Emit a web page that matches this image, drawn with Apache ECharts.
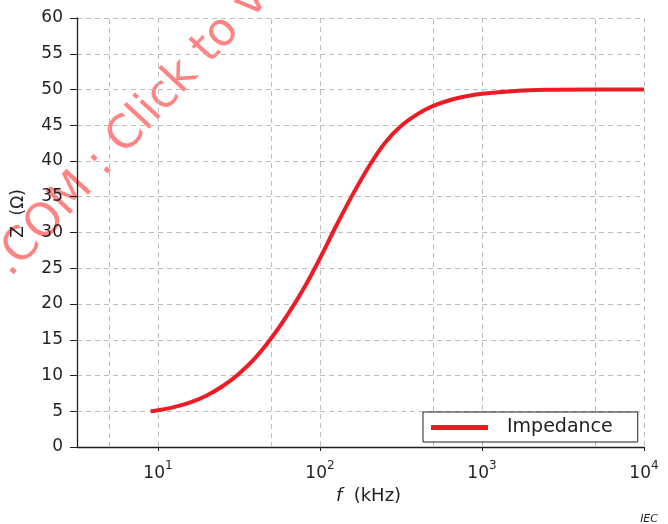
<!DOCTYPE html>
<html>
<head>
<meta charset="utf-8">
<script src="https://cdn.jsdelivr.net/npm/echarts@6/dist/echarts.min.js"></script>
<style>
  html, body { margin: 0; padding: 0; background: #ffffff; }
  #chart { width: 668px; height: 524px; }
</style>
</head>
<body>
<div id="chart"></div>
<script>
// Frequency points (kHz) and impedance magnitude (ohm)
var freqKHz = [9, 10, 12.5, 16, 20, 25, 31.5, 40, 50, 63, 80, 100, 125, 160, 200, 250, 315, 400, 500, 630, 800, 1000, 1600, 2500, 5000, 10000];
var impedance = [5.0, 5.14, 5.58, 6.28, 7.21, 8.5, 10.22, 12.5, 15.2, 18.47, 22.3, 26.4, 30.8, 35.4, 39.2, 42.45, 44.85, 46.55, 47.7, 48.5, 49.05, 49.4, 49.8, 49.96, 50.0, 50.0];

// Axis ranges and tick values
var yTicks = [0, 5, 10, 15, 20, 25, 30, 35, 40, 45, 50, 55, 60];
var xMin = Math.sqrt(10);
var xMax = 10000;
// Vertical dashed guides between the decades
var minorGridKHz = [5, 50, 500, 5000];

var seriesName = 'Impedance';
var xTitle = 'f';
var xUnit = '(kHz)';
var yTitle = 'Z  (\u03A9)';
var watermarkHead = '.COM ';
var watermarkTail = ': Click to view';
var sourceTag = 'IEC';

var FONT = '"DejaVu Sans", "Liberation Sans", sans-serif';
var INK = '#231f20';
var RED = '#ed1c24';
var GRID = '#bdbdbd';
var MARK = 'rgba(255, 30, 30, 0.55)';

var chart = echarts.init(document.getElementById('chart'), null, { renderer: 'canvas' });

var points = freqKHz.map(function (f, i) { return [f, impedance[i]]; });

var option = {
  backgroundColor: '#ffffff',
  animation: false,
  grid: { left: 77, right: 24, top: 18, bottom: 77, containLabel: false },
  xAxis: {
    type: 'log',
    logBase: 10,
    min: xMin,
    max: xMax,
    name: '{i|' + xTitle + '}  ' + xUnit,
    nameLocation: 'middle',
    nameGap: 38,
    nameTextStyle: {
      color: INK, fontFamily: FONT, fontSize: 18, padding: [0, 0, 0, 16],
      rich: { i: { fontStyle: 'italic', fontFamily: FONT, fontSize: 18, color: INK } }
    },
    axisLine: { show: true, onZero: false, lineStyle: { color: INK, width: 1.3 } },
    axisTick: { show: true, inside: false, length: 4, lineStyle: { color: INK, width: 1 } },
    splitLine: { show: true, lineStyle: { color: GRID, type: [5, 4], width: 1 } },
    axisLabel: {
      showMinLabel: false,
      margin: 13,
      formatter: function (v) {
        var e = Math.log(v) / Math.LN10;
        if (Math.abs(e - Math.round(e)) > 1e-6) return '';
        return '{b|10}{s|' + Math.round(e) + '}';
      },
      rich: {
        b: { fontFamily: FONT, fontSize: 17, color: INK, lineHeight: 22, verticalAlign: 'bottom' },
        s: { fontFamily: FONT, fontSize: 12, color: INK, lineHeight: 14, verticalAlign: 'top' }
      }
    }
  },
  yAxis: {
    type: 'value',
    min: yTicks[0],
    max: yTicks[yTicks.length - 1],
    interval: yTicks[1] - yTicks[0],
    name: yTitle,
    nameLocation: 'middle',
    nameGap: 50,
    nameTextStyle: { color: INK, fontFamily: FONT, fontSize: 17, padding: [0, 0, 0, 38] },
    axisLine: { show: true, lineStyle: { color: INK, width: 1.3 } },
    axisTick: { show: true, inside: false, length: 7, lineStyle: { color: INK, width: 1 } },
    splitLine: { show: true, lineStyle: { color: GRID, type: [5, 4], width: 1 } },
    axisLabel: { color: INK, fontFamily: FONT, fontSize: 17, margin: 14 }
  },
  legend: {
    show: true,
    left: 423,
    top: 412,
    orient: 'horizontal',
    backgroundColor: '#ffffff',
    borderColor: INK,
    borderWidth: 1,
    borderRadius: 0,
    padding: [6, 25, 5, 8],
    itemWidth: 57,
    itemHeight: 5,
    icon: 'rect',
    selectedMode: false,
    textStyle: { color: INK, fontFamily: FONT, fontSize: 19, padding: [0, 0, 0, 14] },
    data: [{ name: seriesName, itemStyle: { color: RED } }]
  },
  series: [{
    name: seriesName,
    type: 'line',
    data: points,
    smooth: 0.3,
    showSymbol: false,
    symbol: 'none',
    lineStyle: { color: RED, width: 4 },
    itemStyle: { color: RED },
    z: 5,
    markLine: {
      silent: true,
      symbol: ['none', 'none'],
      label: { show: false },
      animation: false,
      z: 1,
      lineStyle: { color: GRID, type: [5, 4], width: 1 },
      emphasis: { disabled: true },
      data: minorGridKHz.map(function (f) { return { xAxis: f }; })
    }
  }],
  graphic: [
    {
      type: 'group',
      x: 112,
      y: 185,
      rotation: 47 * Math.PI / 180,
      silent: true,
      z: 100,
      children: [
        {
          type: 'text',
          x: 0, y: 0,
          style: {
            text: watermarkHead,
            fill: MARK,
            font: '46px "DejaVu Sans", sans-serif',
            textAlign: 'right',
            textVerticalAlign: 'bottom'
          }
        },
        {
          type: 'text',
          x: 0, y: 0,
          style: {
            text: watermarkTail,
            fill: MARK,
            font: '46px "DejaVu Sans", sans-serif',
            textAlign: 'left',
            textVerticalAlign: 'bottom'
          }
        }
      ]
    },
    {
      type: 'text',
      x: 658,
      y: 524.5,
      silent: true,
      style: {
        text: sourceTag,
        fill: INK,
        font: 'italic 11px "DejaVu Sans", sans-serif',
        textAlign: 'right',
        textVerticalAlign: 'bottom'
      }
    }
  ]
};

chart.setOption(option);
</script>
</body>
</html>
